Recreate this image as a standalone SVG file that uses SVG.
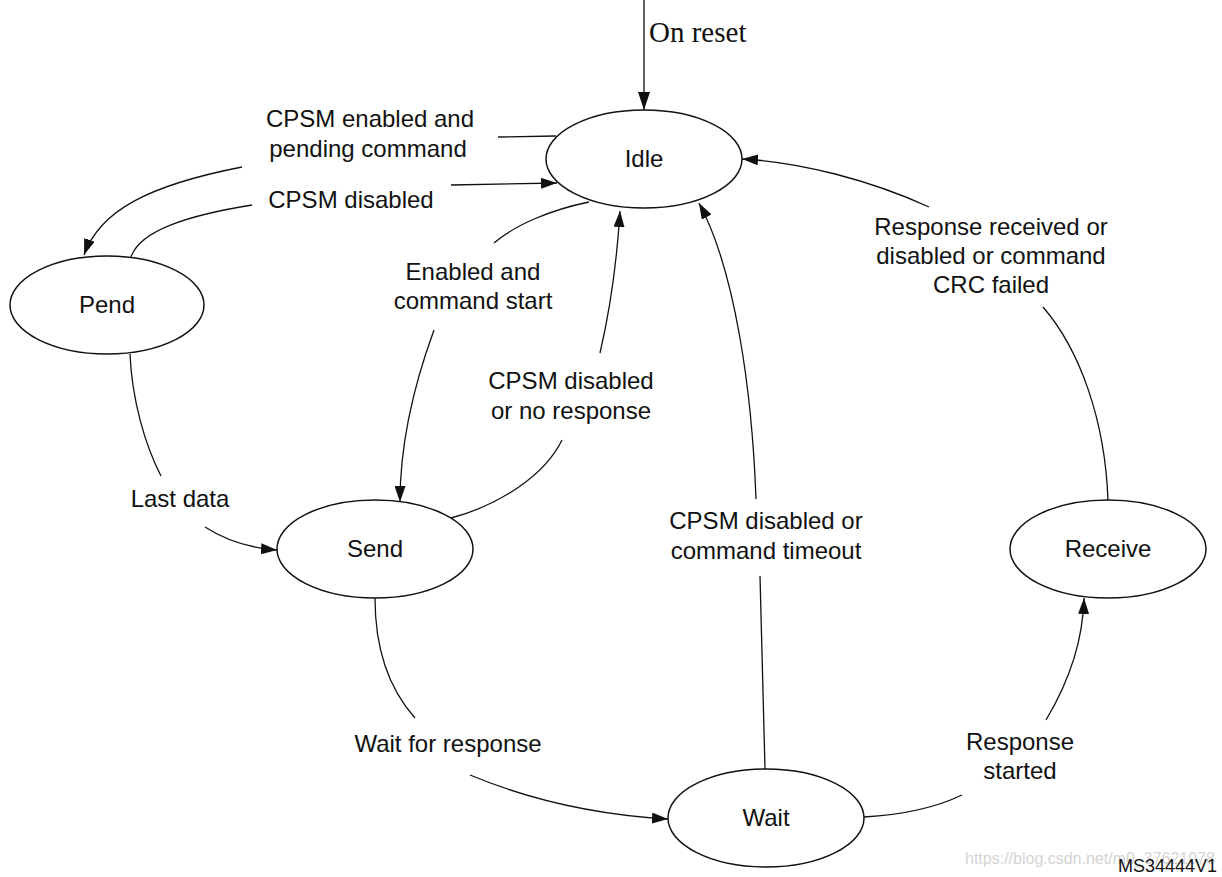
<svg xmlns="http://www.w3.org/2000/svg" width="1222" height="877" viewBox="0 0 1222 877">
<style>
.node ellipse{fill:#fff;stroke:#111;stroke-width:1.5}
.lbl{font-family:"Liberation Sans",Arial,sans-serif;font-size:24px;fill:#111;text-anchor:middle}
.edge{fill:none;stroke:#111;stroke-width:1.3}
</style>
<defs>
<marker id="arr" markerUnits="userSpaceOnUse" markerWidth="16" markerHeight="11" refX="16" refY="5.5" orient="auto">
<path d="M0,0 L16,5.5 L0,11 z" fill="#111"/>
</marker>
<marker id="arrB" markerUnits="userSpaceOnUse" markerWidth="18" markerHeight="12" refX="18" refY="6" orient="auto">
<path d="M0,0 L18,6 L0,12 z" fill="#111"/>
</marker>
</defs>
<rect width="1222" height="877" fill="#fff"/>
<g id="connectors">
<path class="edge" d="M644,0 L644,110" stroke-width="2" marker-end="url(#arrB)"/>
<path class="edge" d="M556,136 L498,137"/>
<path class="edge" d="M242,167 C150,185 100,210 84,255" marker-end="url(#arr)"/>
<path class="edge" d="M131,257 C140,230 190,215 252,205"/>
<path class="edge" d="M451,185 L557,183" marker-end="url(#arr)"/>
<path class="edge" d="M589,202 C550,210 515,225 494,243"/>
<path class="edge" d="M434,330 C412,390 400,450 400,502" marker-end="url(#arr)"/>
<path class="edge" d="M451,518 C500,505 545,475 562,440"/>
<path class="edge" d="M600,353 C610,310 617,260 620,211" marker-end="url(#arr)"/>
<path class="edge" d="M765,769 L760,576"/>
<path class="edge" d="M756,499 C752,390 735,270 699,203" marker-end="url(#arr)"/>
<path class="edge" d="M1108,500 C1105,420 1080,350 1043,307"/>
<path class="edge" d="M929,207 C870,180 800,162 742,159" marker-end="url(#arr)"/>
<path class="edge" d="M130,354 C132,400 145,445 161,476"/>
<path class="edge" d="M205,527 C225,540 250,548 277,550" marker-end="url(#arr)"/>
<path class="edge" d="M375,598 C375,650 390,690 415,718"/>
<path class="edge" d="M470,775 C530,800 600,815 668,819" marker-end="url(#arr)"/>
<path class="edge" d="M864,817 C900,815 935,808 962,795"/>
<path class="edge" d="M1046,720 C1070,680 1083,640 1084,598" marker-end="url(#arr)"/>
<text x="649" y="42" font-family="'Liberation Serif','Times New Roman',serif" font-size="29" fill="#111">On reset</text>
<text class="lbl" x="370" y="127">CPSM enabled and</text>
<text class="lbl" x="368" y="157">pending command</text>
<text class="lbl" x="351" y="208">CPSM disabled</text>
<text class="lbl" x="473" y="280">Enabled and</text>
<text class="lbl" x="473" y="309">command start</text>
<text class="lbl" x="571" y="389">CPSM disabled</text>
<text class="lbl" x="571" y="419">or no response</text>
<text class="lbl" x="180" y="507">Last data</text>
<text class="lbl" x="766" y="529">CPSM disabled or</text>
<text class="lbl" x="766" y="559">command timeout</text>
<text class="lbl" x="991" y="235">Response received or</text>
<text class="lbl" x="991" y="264">disabled or command</text>
<text class="lbl" x="991" y="293">CRC failed</text>
<text class="lbl" x="448" y="752">Wait for response</text>
<text class="lbl" x="1020" y="750">Response</text>
<text class="lbl" x="1020" y="779">started</text>
</g>
<g id="idle" class="node"><ellipse cx="644" cy="159" rx="98" ry="49"/><text class="lbl" x="644" y="167">Idle</text></g>
<g id="pend" class="node"><ellipse cx="107" cy="305" rx="97" ry="49"/><text class="lbl" x="107" y="313">Pend</text></g>
<g id="send" class="node"><ellipse cx="375" cy="549" rx="98" ry="49"/><text class="lbl" x="375" y="557">Send</text></g>
<g id="wait" class="node"><ellipse cx="766" cy="818" rx="98" ry="49"/><text class="lbl" x="766" y="826">Wait</text></g>
<g id="receive" class="node"><ellipse cx="1108" cy="549" rx="98" ry="49"/><text class="lbl" x="1108" y="557">Receive</text></g>
<text x="965" y="864" font-family="'Liberation Sans',Arial,sans-serif" font-size="16" fill="#d4d4d4">https://blog.csdn.net/m0_37621078</text>
<text x="1217" y="872" font-family="'Liberation Sans',Arial,sans-serif" font-size="18" fill="#111" text-anchor="end">MS34444V1</text>
</svg>
